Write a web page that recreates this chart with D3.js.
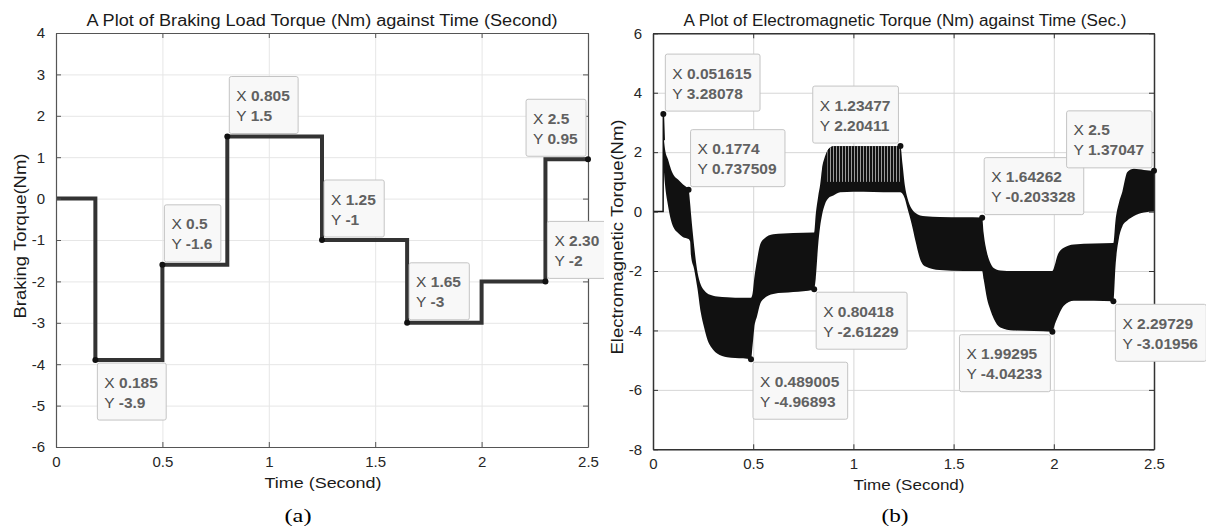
<!DOCTYPE html>
<html>
<head>
<meta charset="utf-8">
<script src="https://cdn.jsdelivr.net/npm/d3@7"></script>
<style>
  body { margin: 0; background: #fff; }
  text { font-family: Arial, "Liberation Sans", sans-serif; }
</style>
</head>
<body>
<div id="chart"></div>
<script>
// ---- data: (a) braking load torque, step signal
var brakeTime   = [0, 0.185, 0.5, 0.805, 1.25, 1.65, 2.0, 2.3, 2.5];
var brakeTorque = [0, -3.9, -1.6, 1.5, -1, -3, -2, 0.95, 0.95];
var brakeTips = [
  {x: 0.185, y: -3.9, xs: "0.185", ys: "-3.9", pos: "br"},
  {x: 0.5,   y: -1.6, xs: "0.5",   ys: "-1.6", pos: "tr"},
  {x: 0.805, y: 1.5,  xs: "0.805", ys: "1.5",  pos: "tr"},
  {x: 1.25,  y: -1,   xs: "1.25",  ys: "-1",   pos: "tr"},
  {x: 1.65,  y: -3,   xs: "1.65",  ys: "-3",   pos: "tr"},
  {x: 2.3,   y: -2,   xs: "2.30",  ys: "-2",   pos: "tr"},
  {x: 2.5,   y: 0.95, xs: "2.5",   ys: "0.95", pos: "tl"}
];
var brakeYTicks = [4, 3, 2, 1, 0, -1, -2, -3, -4, -5, -6];

// ---- data: (b) electromagnetic torque, read as envelope of the dense ripple
var emStartT = [0, 0.0505, 0.0516, 0.056];
var emStartV = [0, 0, 3.28078, 2.4];
var emTime  = [0.052, 0.06, 0.075, 0.09, 0.106, 0.125, 0.15, 0.1774, 0.185, 0.19, 0.205, 0.222, 0.238, 0.255, 0.27, 0.3, 0.32, 0.37, 0.45, 0.489, 0.497, 0.505, 0.52, 0.535, 0.553, 0.6, 0.7, 0.8, 0.8042, 0.812, 0.824, 0.834, 0.843, 0.858, 0.875, 0.9, 0.934, 1.0, 1.1, 1.2, 1.2348, 1.245, 1.257, 1.27, 1.29, 1.31, 1.333, 1.36, 1.43, 1.55, 1.6426, 1.65, 1.667, 1.683, 1.7, 1.733, 1.8, 1.9, 1.993, 2.005, 2.017, 2.05, 2.1, 2.2, 2.2973, 2.308, 2.325, 2.342, 2.367, 2.4, 2.45, 2.5];
var emUpper = [2.6, 2.1, 1.75, 1.42, 1.2, 1.08, 0.91, 0.74, 0.3, -0.1, -1.14, -2.04, -2.45, -2.65, -2.75, -2.83, -2.86, -2.88, -2.9, -2.9, -2.75, -2.26, -1.6, -1.1, -0.92, -0.76, -0.72, -0.7, -0.7, -0.1, 0.5, 0.9, 1.42, 1.85, 2.1, 2.2, 2.2, 2.2, 2.2, 2.2, 2.2, 1.6, 0.87, 0.45, 0.1, -0.05, -0.13, -0.16, -0.18, -0.19, -0.2, -0.72, -1.39, -1.72, -1.9, -1.98, -2.0, -2.0, -2.0, -1.8, -1.5, -1.22, -1.11, -1.07, -1.06, -0.3, 0.3, 0.67, 1.33, 1.44, 1.4, 1.37];
var emLower = [1.6, 0.9, 0.2, -0.3, -0.58, -0.72, -0.86, -0.92, -1.0, -1.5, -1.93, -2.6, -3.38, -3.9, -4.28, -4.65, -4.78, -4.9, -4.94, -4.97, -4.5, -3.94, -3.5, -3.1, -2.93, -2.77, -2.71, -2.63, -2.61, -2.26, -1.14, -0.5, -0.13, 0.25, 0.45, 0.54, 0.65, 0.67, 0.66, 0.65, 0.65, 0.6, 0.43, 0.1, -0.4, -1.0, -1.6, -1.85, -1.97, -2.0, -2.0, -2.28, -2.94, -3.3, -3.6, -3.9, -4.0, -4.02, -4.04, -3.8, -3.6, -3.17, -3.0, -3.0, -3.02, -1.83, -0.9, -0.5, -0.3, -0.15, -0.03, 0.0];
var emTips = [
  {x: 0.051615, y: 3.28078,   xs: "0.051615", ys: "3.28078",   pos: "tr"},
  {x: 0.1774,   y: 0.737509,  xs: "0.1774",   ys: "0.737509",  pos: "tr"},
  {x: 1.23477,  y: 2.20411,   xs: "1.23477",  ys: "2.20411",   pos: "tl"},
  {x: 1.64262,  y: -0.203328, xs: "1.64262",  ys: "-0.203328", pos: "tr"},
  {x: 2.5,      y: 1.37047,   xs: "2.5",      ys: "1.37047",   pos: "tl"},
  {x: 0.80418,  y: -2.61229,  xs: "0.80418",  ys: "-2.61229",  pos: "br"},
  {x: 0.489005, y: -4.96893,  xs: "0.489005", ys: "-4.96893",  pos: "br"},
  {x: 1.99295,  y: -4.04233,  xs: "1.99295",  ys: "-4.04233",  pos: "bl"},
  {x: 2.29729,  y: -3.01956,  xs: "2.29729",  ys: "-3.01956",  pos: "br"}
];
var emYTicks = [6, 4, 2, 0, -2, -4, -6, -8];
var timeTicks = [0, 0.5, 1, 1.5, 2, 2.5];

var svg = d3.select("#chart").append("svg")
    .attr("width", 1206)
    .attr("height", 530);

var defs = svg.append("defs");

// vertical ripple hatch for the dense part of (b)
var hatch = defs.append("pattern")
    .attr("id", "ripple")
    .attr("patternUnits", "userSpaceOnUse")
    .attr("width", 3)
    .attr("height", 10);
hatch.append("rect").attr("width", 3).attr("height", 10).attr("fill", "#111");
hatch.append("rect").attr("x", 2).attr("width", 1).attr("height", 10).attr("fill", "#9a9a9a");

function plainNum(d) { return String(d); }

// grid only, returns the scales
function drawFrame(g, cfg) {
    var x = d3.scaleLinear().domain([0, 2.5]).range([cfg.left, cfg.right]);
    var y = d3.scaleLinear().domain(cfg.yDomain).range([cfg.bottom, cfg.top]);
    var w = cfg.right - cfg.left, h = cfg.bottom - cfg.top;

    g.append("g")
        .attr("transform", "translate(0," + cfg.bottom + ")")
        .call(d3.axisBottom(x).tickValues(timeTicks).tickSize(-h).tickFormat(""))
        .call(function(a) { a.select(".domain").remove(); a.selectAll("line").attr("stroke", cfg.grid); });
    g.append("g")
        .attr("transform", "translate(" + cfg.left + ",0)")
        .call(d3.axisLeft(y).tickValues(cfg.yTicks).tickSize(-w).tickFormat(""))
        .call(function(a) { a.select(".domain").remove(); a.selectAll("line").attr("stroke", cfg.grid); });

    return {x: x, y: y};
}

function label(g, x, y, str, size, len, rot) {
    var t = g.append("text")
        .attr("text-anchor", "middle")
        .style("font-size", size + "px")
        .attr("fill", "#1a1a1a")
        .attr("textLength", len)
        .attr("lengthAdjust", "spacingAndGlyphs")
        .text(str);
    if (rot) t.attr("transform", "translate(" + x + "," + y + ")rotate(-90)");
    else t.attr("x", x).attr("y", y);
    return t;
}

function drawAxes(g, cfg, s) {
    var x = s.x, y = s.y;
    var style = function(a) {
        a.select(".domain").attr("stroke", cfg.axis).attr("stroke-width", cfg.axisW);
        a.selectAll("line").attr("stroke", cfg.axis);
        a.selectAll("text").attr("fill", "#262626").style("font-size", "15px")
            .style("font-family", "Arial, 'Liberation Sans', sans-serif");
    };
    g.append("g").attr("transform", "translate(0," + cfg.bottom + ")")
        .call(d3.axisBottom(x).tickValues(timeTicks).tickFormat(plainNum)
            .tickSizeInner(-5).tickSizeOuter(0).tickPadding(9))
        .call(style);
    g.append("g").attr("transform", "translate(0," + cfg.top + ")")
        .call(d3.axisTop(x).tickValues(timeTicks).tickSizeInner(-5).tickSizeOuter(0).tickFormat(""))
        .call(style);
    g.append("g").attr("transform", "translate(" + cfg.left + ",0)")
        .call(d3.axisLeft(y).tickValues(cfg.yTicks).tickFormat(plainNum)
            .tickSizeInner(-5).tickSizeOuter(0).tickPadding(11))
        .call(style);
    g.append("g").attr("transform", "translate(" + cfg.right + ",0)")
        .call(d3.axisRight(y).tickValues(cfg.yTicks).tickSizeInner(-5).tickSizeOuter(0).tickFormat(""))
        .call(style);

    label(g, cfg.titleX, 26, cfg.title, 16, cfg.titleLen);
    label(g, cfg.xLabelX, cfg.bottom + 41, "Time (Second)", 15, cfg.xLabelLen);
    label(g, cfg.yLabelX, cfg.yLabelY, cfg.yLabel, 16, cfg.yLabelLen, true);
    g.append("text")
        .attr("x", cfg.capX).attr("y", 522)
        .attr("text-anchor", "middle")
        .style("font-family", "'Liberation Serif', 'Times New Roman', serif")
        .style("font-size", "18px")
        .attr("fill", "#000")
        .attr("textLength", 27)
        .attr("lengthAdjust", "spacingAndGlyphs")
        .text(cfg.caption);
}

// MATLAB-like data tip
function drawTip(g, s, d) {
    var px = s.x(d.x), py = s.y(d.y);
    var tip = g.append("g");
    var rect = tip.append("rect");
    var lines = [["X ", d.xs], ["Y ", d.ys]];
    var txt = tip.append("g");
    lines.forEach(function(l, i) {
        var t = txt.append("text")
            .attr("x", 0).attr("y", 24.5 + i * 20)
            .style("font-size", "15.5px")
            .attr("fill", "#4d4d4d");
        t.append("tspan").text(l[0]);
        t.append("tspan").style("font-weight", "bold").attr("fill", "#616161").text(l[1]);
    });
    var bw = txt.node().getBBox().width + 15, bh = 57;
    var left = (d.pos[1] == "r") ? px + 2 : px - 2 - bw;
    var top = (d.pos[0] == "t") ? py - 3 - bh : py + 3;
    rect.attr("x", left).attr("y", top).attr("width", bw).attr("height", bh)
        .attr("rx", 2)
        .attr("fill", "#f8f8f8")
        .attr("stroke", "#c4c4c4");
    txt.attr("transform", "translate(" + (left + 7) + "," + top + ")");
    g.append("circle").attr("cx", px).attr("cy", py).attr("r", 3).attr("fill", "#111");
}

// ---------- (a)
defs.append("clipPath").attr("id", "clipA")
    .append("rect").attr("x", 0).attr("y", 0).attr("width", 604).attr("height", 530);
var gA = svg.append("g").attr("clip-path", "url(#clipA)");
var cfgA = {
    left: 56, right: 588, top: 33, bottom: 447,
    yDomain: [-6, 4], yTicks: brakeYTicks,
    grid: "#e6e6e6", axis: "#555", axisW: 1.2,
    title: "A Plot of Braking Load Torque (Nm) against Time (Second)", titleX: 322, titleLen: 471,
    xLabelX: 323, xLabelLen: 117,
    yLabel: "Braking Torque(Nm)", yLabelX: 26, yLabelY: 236, yLabelLen: 165,
    caption: "(a)", capX: 298
};
var sA = drawFrame(gA, cfgA);
var brakeData = brakeTime.map(function(t, i) { return [t, brakeTorque[i]]; });
gA.append("path")
    .datum(brakeData)
    .attr("d", d3.line().curve(d3.curveStepAfter)
        .x(function(d) { return sA.x(d[0]); })
        .y(function(d) { return sA.y(d[1]); }))
    .attr("fill", "none")
    .attr("stroke", "#333")
    .attr("stroke-width", 4);
drawAxes(gA, cfgA, sA);
brakeTips.forEach(function(d) { drawTip(gA, sA, d); });

// ---------- (b)
var gB = svg.append("g");
var cfgB = {
    left: 653, right: 1154, top: 33.3, bottom: 449.3,
    yDomain: [-8, 6], yTicks: emYTicks,
    grid: "#d6d6d6", axis: "#333", axisW: 1.5,
    title: "A Plot of Electromagnetic Torque (Nm) against Time (Sec.)", titleX: 905, titleLen: 443,
    xLabelX: 909, xLabelLen: 111,
    yLabel: "Electromagnetic Torque(Nm)", yLabelX: 623, yLabelY: 237, yLabelLen: 235,
    caption: "(b)", capX: 895
};
var sB = drawFrame(gB, cfgB);
var emData = emTime.map(function(t, i) { return {t: t, hi: emUpper[i], lo: emLower[i]}; });
var band = d3.area().curve(d3.curveMonotoneX)
    .x(function(d) { return sB.x(d.t); })
    .y0(function(d) { return sB.y(d.lo); })
    .y1(function(d) { return sB.y(d.hi); });
gB.append("path").datum(emData).attr("d", band).attr("fill", "#111");

// ripple hatch where the trace separates into visible strokes
defs.append("clipPath").attr("id", "clipRipple")
    .append("path").datum(emData).attr("d", band);
gB.append("rect")
    .attr("clip-path", "url(#clipRipple)")
    .attr("x", sB.x(0.87)).attr("width", sB.x(1.232) - sB.x(0.87))
    .attr("y", sB.y(2.3)).attr("height", sB.y(1.0) - sB.y(2.3))
    .attr("fill", "url(#ripple)");

var startData = emStartT.map(function(t, i) { return [t, emStartV[i]]; });
gB.append("path")
    .datum(startData)
    .attr("d", d3.line().x(function(d) { return sB.x(d[0]); }).y(function(d) { return sB.y(d[1]); }))
    .attr("fill", "none")
    .attr("stroke", "#111")
    .attr("stroke-width", 1.5);
drawAxes(gB, cfgB, sB);
emTips.forEach(function(d) { drawTip(gB, sB, d); });
</script>
</body>
</html>
